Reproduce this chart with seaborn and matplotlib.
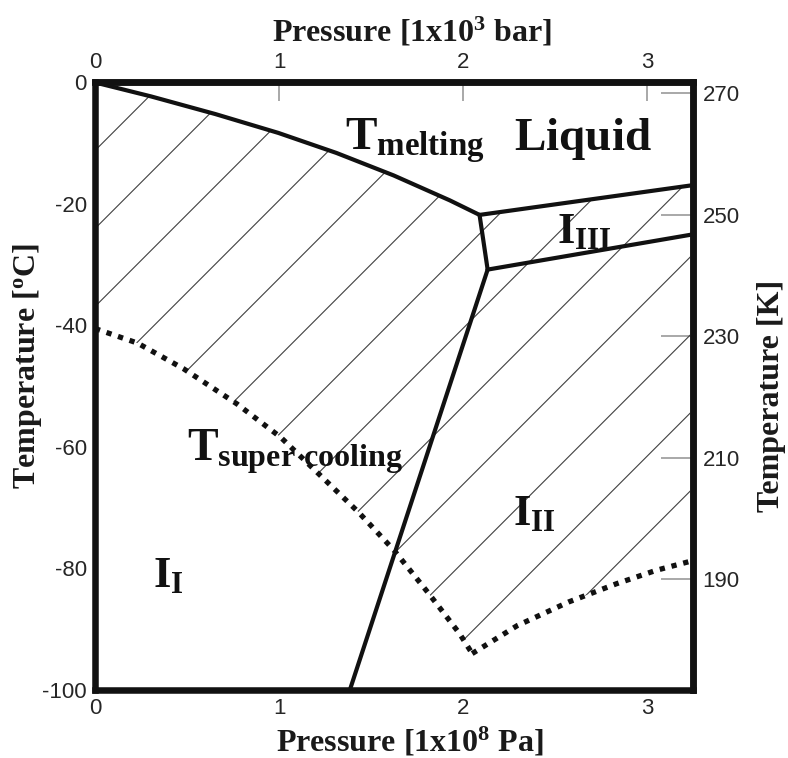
import numpy as np
import matplotlib
matplotlib.use("Agg")
import matplotlib.pyplot as plt
import seaborn as sns
from matplotlib.patches import Polygon

# Phase boundaries of ice; pressure in 1e8 Pa, temperature in degC
melt_p = [0.0, 0.305, 0.654, 0.996, 1.312, 1.623, 1.928, 2.09]
melt_t = [0.0, -2.3, -5.2, -8.3, -11.6, -15.3, -19.4, -21.8]
liq3_p = [2.09, 3.25]
liq3_t = [-21.8, -16.9]
ih3_p = [2.09, 2.134]
ih3_t = [-21.8, -30.8]
ii3_p = [2.134, 3.25]
ii3_t = [-30.8, -25.0]
ih2_p = [2.134, 1.385]
ih2_t = [-30.8, -100.0]
# homogeneous nucleation (supercooling limit)
hom_p = [0.0, 0.231, 0.480, 0.771, 1.009, 1.215, 1.431, 1.625, 1.808, 1.981, 2.05]
hom_t = [-40.5, -42.9, -47.1, -52.9, -58.4, -64.4, -70.7, -77.0, -83.9, -90.7, -94.0]
hom2_p = [2.05, 2.295, 2.575, 2.835, 3.05, 3.25]
hom2_t = [-94.0, -89.4, -85.5, -82.5, -80.3, -78.7]

x_ticks = [0, 1, 2, 3]
y_ticks = [0, -20, -40, -60, -80, -100]
k_ticks = [190, 210, 230, 250, 270]
k_offset = 271.8

sns.set_theme(style="white")
plt.rcParams["font.family"] = ["Liberation Sans", "DejaVu Sans"]
plt.rcParams["mathtext.fontset"] = "custom"
plt.rcParams["mathtext.rm"] = "Liberation Serif:bold"
plt.rcParams["mathtext.it"] = "Liberation Serif:bold"
plt.rcParams["mathtext.bf"] = "Liberation Serif:bold"

fig = plt.figure(figsize=(7.88, 7.58), dpi=100)
ax = fig.add_axes([0.1206, 0.0897, 0.7588, 0.8015])
ax.set_xlim(0, 3.25)
ax.set_ylim(-100, 0)

# hatched metastable region between melting and supercooling limits
region = np.column_stack([
    melt_p + liq3_p[1:] + hom2_p[::-1] + hom_p[::-1][1:],
    melt_t + liq3_t[1:] + hom2_t[::-1] + hom_t[::-1][1:],
])
clip = Polygon(region, closed=True, facecolor="none", edgecolor="none",
               transform=ax.transData)
ax.add_patch(clip)
slope = 30.3
hx = np.array([0.0, 3.25])
for c in np.arange(-11.2, -190, -12.84):
    ln, = ax.plot(hx, slope * hx + c, color="#404040", lw=0.8, zorder=1)
    ln.set_clip_path(clip)

solid = dict(color="#111111", linewidth=3.0, sort=False, estimator=None,
             ax=ax, zorder=3)
for px, pt in [(melt_p, melt_t), (liq3_p, liq3_t), (ih3_p, ih3_t),
               (ii3_p, ii3_t), (ih2_p, ih2_t)]:
    sns.lineplot(x=px, y=pt, **solid)
for px, pt in [(hom_p, hom_t), (hom2_p, hom2_t)]:
    sns.lineplot(x=px, y=pt, color="#111111", linewidth=3.8, sort=False,
                 estimator=None, ax=ax, zorder=3,
                 linestyle=(0, (1.0, 1.3)), dash_capstyle="butt")

# phase labels
big = 34
ax.text(1.36, -11.1, r"$T_{melting}$", fontsize=big, color="#111", zorder=4)
ax.text(2.275, -11.1, r"$Liquid$", fontsize=big, color="#111", zorder=4)
ax.text(2.51, -26.4, r"$I_{III}$", fontsize=32, color="#111", zorder=4)
ax.text(0.50, -62.2, r"$T_{super\ cooling}$", fontsize=33, color="#111",
        zorder=2)
ax.text(2.27, -72.9, r"$I_{II}$", fontsize=32, color="#111", zorder=4)
ax.text(0.316, -83.1, r"$I_{I}$", fontsize=32, color="#111", zorder=4)

tick_kw = dict(direction="in", color="#9a9a9a", width=1.2,
               labelsize=16, labelcolor="#262626")
ax.set_xticks(x_ticks)
ax.set_yticks(y_ticks)
ax.set_xticklabels([str(v) for v in x_ticks])
ax.set_yticklabels([str(v) for v in y_ticks])
ax.tick_params(axis="x", length=18, pad=6, **tick_kw)
ax.tick_params(axis="y", length=23, pad=6, **tick_kw)

top = ax.secondary_xaxis("top")
top.set_xticks(x_ticks)
top.set_xticklabels([str(v) for v in x_ticks])
top.tick_params(axis="x", length=14, pad=7, **tick_kw)

right = ax.secondary_yaxis("right", functions=(lambda c: c + k_offset,
                                                 lambda k: k - k_offset))
right.set_yticks(k_ticks)
right.set_yticklabels([str(v) for v in k_ticks])
right.tick_params(axis="y", length=23, pad=7, **tick_kw)

for a in (ax, top, right):
    for s in a.spines.values():
        s.set_linewidth(4.7)
        s.set_color("#111111")

lab = dict(fontsize=23, color="#1a1a1a", fontfamily="Liberation Serif",
           fontweight="bold")
ax.set_xlabel(r"Pressure [1x10$^{8}$ Pa]", **lab)
ax.xaxis.set_label_coords(0.527, -0.058, transform=ax.transAxes)
top.set_xlabel(r"Pressure [1x10$^{3}$ bar]", **lab)
top.xaxis.set_label_coords(0.53, 1.067, transform=ax.transAxes)
ax.set_ylabel(r"Temperature [$^{o}$C]", **lab)
ax.yaxis.set_label_coords(-0.085, 0.533, transform=ax.transAxes)
right.set_ylabel("Temperature [K]", **lab)
right.yaxis.set_label_coords(1.107, 0.484, transform=ax.transAxes)

fig.savefig("out.png", dpi=100)
